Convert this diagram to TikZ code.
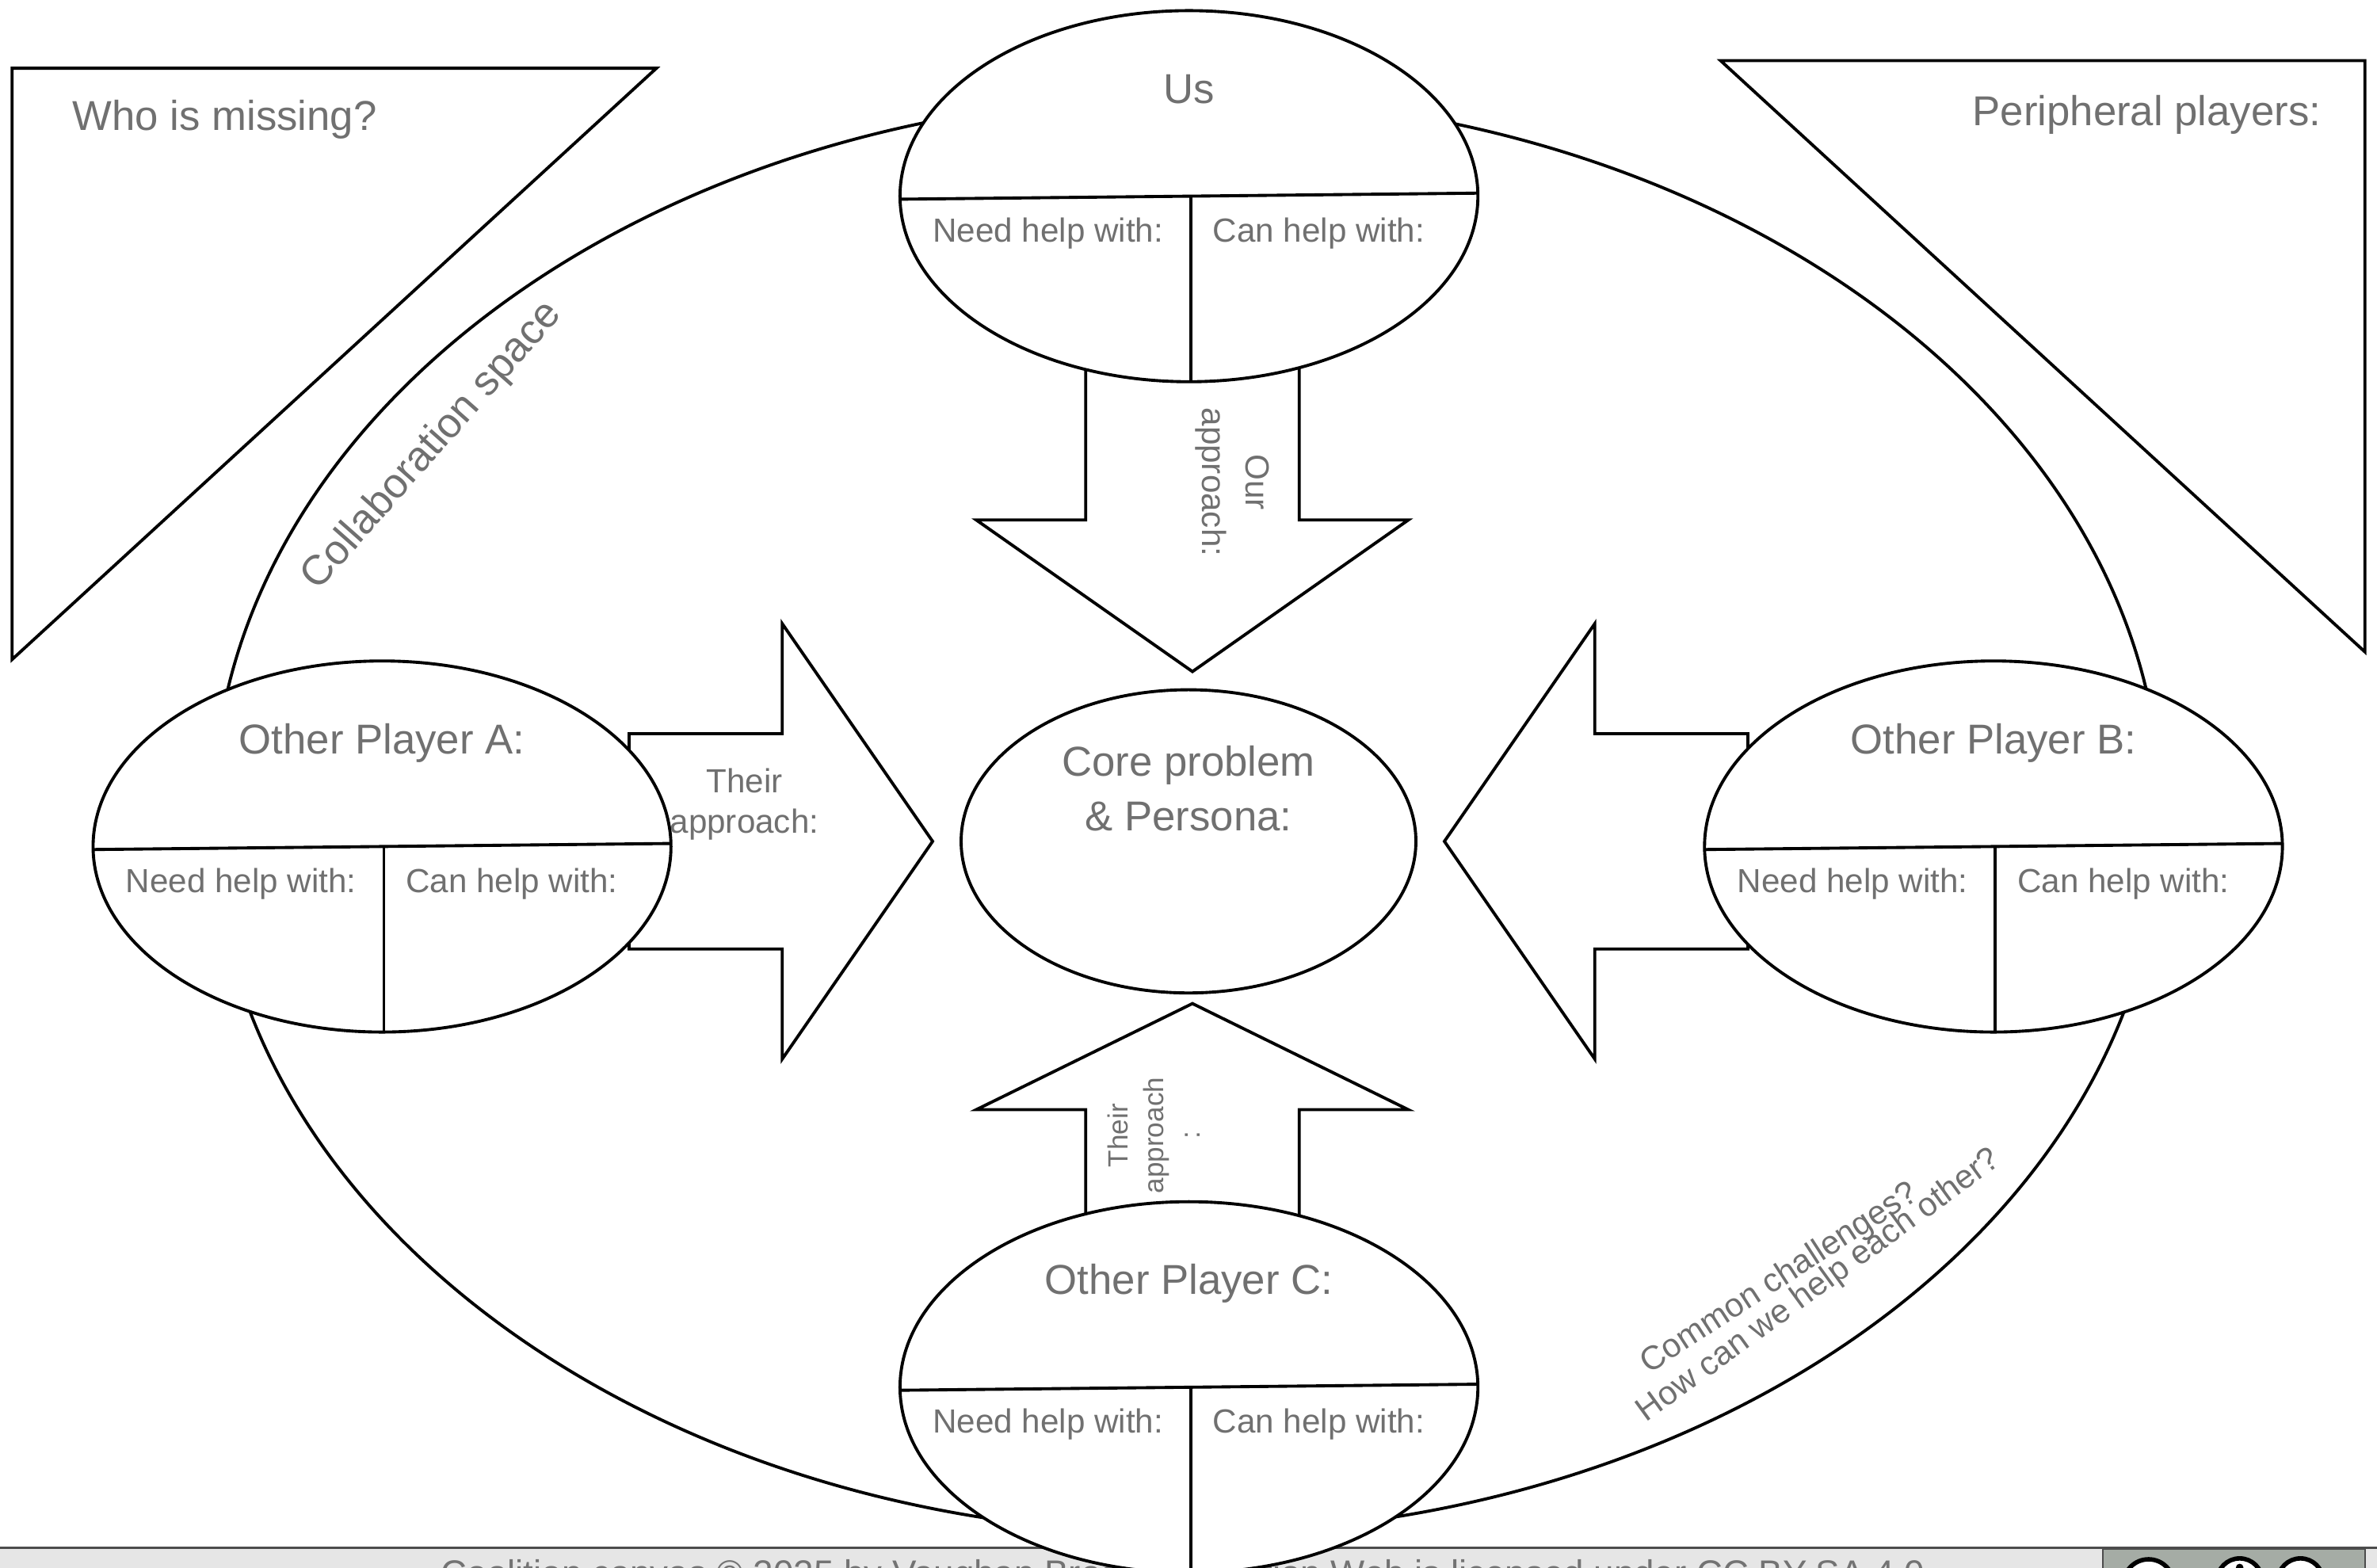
\documentclass[tikz,border=0pt]{standalone}
\usepackage{fontspec}
\setmainfont{Liberation Sans}
\definecolor{txtgray}{RGB}{112,112,112}
\definecolor{footfill}{RGB}{230,230,230}
\definecolor{ccgray}{RGB}{165,172,165}
\begin{document}
\begin{tikzpicture}[x=0.019133cm,y=-0.019133cm,line width=1.1pt,
  lblbig/.style={text=txtgray,inner sep=0pt,font=\fontsize{15}{19.5}\selectfont},
  lblsmall/.style={text=txtgray,inner sep=0pt,font=\fontsize{12}{14.7}\selectfont},
  lblfoot/.style={text=black!55,inner sep=0pt,font=\fontsize{13}{15}\selectfont},
  arrowshape/.style={fill=white,line join=miter}]
\useasboundingbox (0,0) rectangle (1568,1034);
\clip (0,0) rectangle (1568,1034);
\fill[white] (0,0) rectangle (1568,1034);

\fill[footfill] (0,1021) rectangle (1568,1040);
\draw[black!70,line width=.6pt] (0,1021) -- (1568,1021);
\node[lblfoot,anchor=base west] (footL) at (290,1046) {Coalition canvas © 2025 by Vaughan Brod};
\node[lblfoot,anchor=base east] (footR) at (1270.6,1046) {tion Web is licensed under CC BY-SA 4.0};
\draw[fill=ccgray,draw=black!70,line width=.6pt] (1387,1022) rectangle (1560,1040);
\draw[line width=1.6pt,fill=white] (1417.3,1045.2) circle (16.6);
\draw[line width=1.6pt,fill=white] (1477.4,1043) circle (15);
\draw[line width=1.6pt,fill=white] (1517.5,1043) circle (15);
\fill (1477.4,1034) circle (2.5);

\draw (783,537.5) ellipse (642.5 and 474);
\draw[fill=white] (8,45) -- (433,45) -- (8,435) -- cycle;
\draw[fill=white] (1135,40) -- (1560,40) -- (1560,430) -- cycle;

\draw[arrowshape] (716.2,235) -- (716.2,343) -- (644,343) -- (786.6,443) -- (929,343) -- (857,343) -- (857,235) -- cycle;
\draw[arrowshape] (415,484) -- (516,484) -- (516,411.4) -- (615.2,555) -- (516,698.6) -- (516,626) -- (415,626) -- cycle;
\draw[arrowshape] (1153,484) -- (1052,484) -- (1052,411.4) -- (952.8,555) -- (1052,698.6) -- (1052,626) -- (1153,626) -- cycle;
\draw[arrowshape] (716.2,815) -- (716.2,732) -- (644,732) -- (786.6,662) -- (929,732) -- (857,732) -- (857,815) -- cycle;

\draw[fill=white] (784,555) ellipse (150 and 100);

\draw[fill=white] (784.3,129.4) ellipse (190.6 and 122.4);
\draw (593.7,131.4) -- (974.9,127.4);
\draw (785.5,129.4) -- (785.5,251.8);

\draw[fill=white] (252,558.4) ellipse (190.6 and 122.4);
\draw (61.4,560.4) -- (442.6,556.4);
\draw (253.2,558.4) -- (253.2,680.8);

\draw[fill=white] (1315,558.4) ellipse (190.6 and 122.4);
\draw (1124.4,560.4) -- (1505.6,556.4);
\draw (1316.2,558.4) -- (1316.2,680.8);

\draw[fill=white] (784.3,915.1) ellipse (190.6 and 122.4);
\draw (593.7,917.1) -- (974.9,913.1);
\draw (785.5,915.1) -- (785.5,1037.5);

\node[lblbig,anchor=base west] (whoMissing) at (47,86) {Who is missing?};
\node[lblbig,anchor=base east] (periph) at (1532,83) {Peripheral players:};
\node[lblbig,rotate=48.5] (collab) at (285.2,294.4) {Collaboration space};
\node[lblsmall,rotate=33,anchor=base west] (common1) at (1087,907) {Common challenges?};
\node[lblsmall,rotate=36,anchor=base west] (common2) at (1085,939) {How can we help each other?};

\node[lblbig,anchor=base] (usTitle) at (784.3,68) {Us};
\node[lblsmall,anchor=base] (usNeed) at (691.3,159.6) {Need help with:};
\node[lblsmall,anchor=base] (usCan) at (870,159.6) {Can help with:};
\node[lblsmall,align=center,rotate=-90,font=\fontsize{12}{15.5}\selectfont] (usAppr) at (813,318) {Our\\approach:};

\node[lblbig,align=center] (core) at (784,520) {Core problem\\\& Persona:};

\node[lblbig,anchor=base] (aTitle) at (252,497.1) {Other Player A:};
\node[lblsmall,anchor=base] (aNeed) at (159,588.6) {Need help with:};
\node[lblsmall,anchor=base] (aCan) at (337.7,588.6) {Can help with:};
\node[lblsmall,align=center] (aAppr) at (491,530.5) {Their\\approach:};

\node[lblbig,anchor=base] (bTitle) at (1315,497.1) {Other Player B:};
\node[lblsmall,anchor=base] (bNeed) at (1222,588.6) {Need help with:};
\node[lblsmall,anchor=base] (bCan) at (1400.7,588.6) {Can help with:};

\node[lblbig,anchor=base] (cTitle) at (784.3,853.8) {Other Player C:};
\node[lblsmall,anchor=base] (cNeed) at (691.3,945.3) {Need help with:};
\node[lblsmall,anchor=base] (cCan) at (870,945.3) {Can help with:};
\node[lblsmall,align=center,rotate=90,font=\fontsize{10}{13}\selectfont] (cAppr) at (761,749) {Their\\approach\\:};
\end{tikzpicture}
\end{document}
